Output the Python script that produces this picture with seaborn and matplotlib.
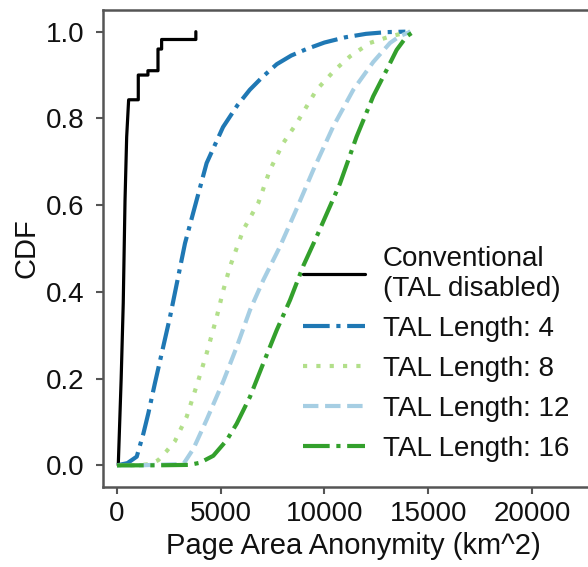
import matplotlib
matplotlib.use("Agg")
import matplotlib.pyplot as plt
import seaborn as sns

# ---- data ----
# empirical CDF path of the conventional scheme (steep rise, then steps)
conv_x = [60, 130, 200, 300, 385, 465, 560, 1025, 1025, 1490, 1490, 1975, 1975,
          2150, 2150, 3800, 3800]
conv_y = [0.0, 0.1, 0.2, 0.374, 0.61, 0.757, 0.843, 0.843, 0.9, 0.9, 0.91, 0.91,
          0.96, 0.96, 0.982, 0.982, 1.0]

tal4_x = [0, 500, 950, 1270, 1510, 1830, 2554, 3277, 3840, 4320, 5110, 5800, 6400,
          7000, 7700, 8400, 9140, 10000, 11000, 12000, 13000, 13900]
tal4_y = [0, 0.005, 0.02, 0.073, 0.12, 0.19, 0.342, 0.512, 0.612, 0.697, 0.78, 0.83,
          0.866, 0.895, 0.925, 0.945, 0.96, 0.975, 0.987, 0.995, 0.999, 1.0]

tal8_x = [0, 1000, 1600, 1990, 2395, 2795, 3358, 3920, 4320, 4805, 5125, 5445, 6087,
          6810, 7370, 8010, 8660, 9620, 10510, 11230, 12190, 13160, 14120]
tal8_y = [0, 0.0, 0.003, 0.012, 0.033, 0.056, 0.112, 0.196, 0.258, 0.342, 0.404, 0.458,
          0.543, 0.605, 0.681, 0.743, 0.789, 0.866, 0.912, 0.943, 0.974, 0.989, 1.0]

tal12_x = [0, 1100, 3200, 3680, 4320, 5125, 5770, 6410, 7050, 7850, 8600, 9460, 10420,
           11390, 12350, 13160, 13640, 14150]
tal12_y = [0, 0, 0.003, 0.038, 0.105, 0.194, 0.273, 0.358, 0.427, 0.504, 0.585, 0.681,
           0.781, 0.866, 0.93, 0.974, 0.99, 1.0]

tal16_x = [0, 1900, 3500, 4000, 4640, 5290, 5770, 6410, 7050, 7700, 8340, 8980, 9620,
           10750, 11550, 12350, 13000, 13480, 13960, 14300]
tal16_y = [0, 0, 0.001, 0.006, 0.022, 0.058, 0.096, 0.158, 0.235, 0.312, 0.381, 0.46,
           0.527, 0.65, 0.758, 0.851, 0.912, 0.958, 0.989, 1.0]

labels = ["Conventional\n(TAL disabled)", "TAL Length: 4", "TAL Length: 8",
          "TAL Length: 12", "TAL Length: 16"]
x_ticks = [0, 5000, 10000, 15000, 20000]
y_ticks = [0.0, 0.2, 0.4, 0.6, 0.8, 1.0]

# ---- style ----
sns.set_style("ticks")
plt.rcParams["font.family"] = ["Liberation Sans", "DejaVu Sans"]
pal = sns.color_palette("Paired")  # a6cee3, 1f78b4, b2df8a, 33a02c
spine_col = "#555555"

fig = plt.figure(figsize=(5.88, 5.67), dpi=100)
ax = fig.add_axes([102.5 / 588, 80 / 567, 502 / 588, 477 / 567])

sns.lineplot(x=conv_x, y=conv_y, ax=ax, color="black", lw=2.3,
             label=labels[0], estimator=None, sort=False)
sns.lineplot(x=tal4_x, y=tal4_y, ax=ax, color=pal[1], lw=3, linestyle="-.",
             label=labels[1], estimator=None, sort=False)
sns.lineplot(x=tal8_x, y=tal8_y, ax=ax, color=pal[2], lw=3, linestyle=(0, (1, 2.2)),
             label=labels[2], estimator=None, sort=False)
sns.lineplot(x=tal12_x, y=tal12_y, ax=ax, color=pal[0], lw=3, linestyle="--",
             label=labels[3], estimator=None, sort=False)
sns.lineplot(x=tal16_x, y=tal16_y, ax=ax, color=pal[3], lw=3, linestyle="-.",
             label=labels[4], estimator=None, sort=False)

ax.set_xlim(-700, 23500)
ax.set_ylim(-0.05, 1.05)
ax.set_xticks(x_ticks)
ax.set_yticks(y_ticks)
ax.set_yticklabels([f"{v:.1f}" for v in y_ticks])
ax.tick_params(labelsize=20, colors=spine_col, labelcolor="#111111", width=1.5, length=5)
ax.tick_params(axis="y", pad=8)
ax.tick_params(axis="x", pad=5)
for s in ax.spines.values():
    s.set_color(spine_col)
    s.set_linewidth(1.8)

ax.set_xlabel("Page Area Anonymity (km^2)", fontsize=21, color="#111111")
ax.set_ylabel("CDF", fontsize=21, color="#111111")

leg = ax.legend(loc="upper left", bbox_to_anchor=(0.399, 0.505), frameon=False,
                fontsize=20, borderpad=0, handlelength=2.23, handletextpad=0.65,
                labelspacing=0.5, borderaxespad=0)
for t in leg.get_texts():
    t.set_color("#111111")

fig.savefig("out.png", dpi=100)
